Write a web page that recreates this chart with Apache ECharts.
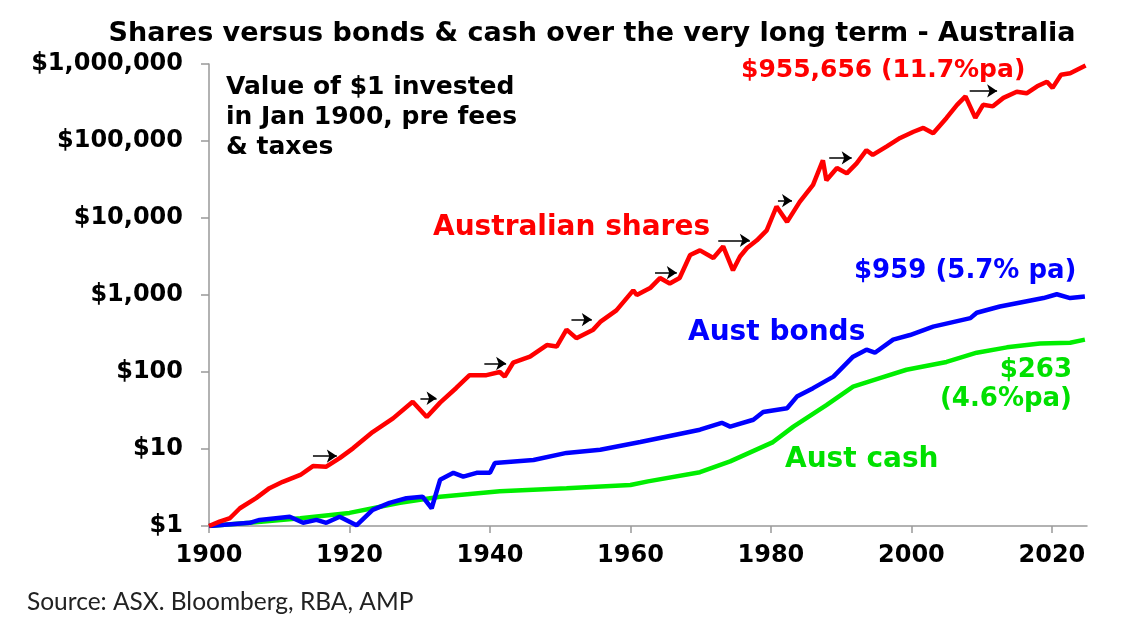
<!DOCTYPE html>
<html>
<head>
<meta charset="utf-8">
<script src="https://cdn.jsdelivr.net/npm/echarts@6/dist/echarts.min.js"></script>
<style>
  html, body { margin: 0; padding: 0; background: #fff; }
  #chart { width: 1137px; height: 640px; }
</style>
</head>
<body>
<div id="chart"></div>
<script>
// value of $1 invested in Jan 1900
var shareYears = [1900, 1901.5, 1903, 1904.4, 1906.7, 1908.6, 1910.5, 1913, 1914.8, 1916.7, 1918.6, 1920.5,
  1923.3, 1926.2, 1929, 1931, 1932.9, 1935.2, 1937.1, 1939.5, 1941.4, 1942.1, 1943.3, 1945.7, 1948.1, 1949.5,
  1950.9, 1952.3, 1954.7, 1955.7, 1958, 1960.4, 1960.9, 1962.8, 1964.2, 1965.6, 1967, 1968.5, 1969.9, 1971.8,
  1973.2, 1974.6, 1975.6, 1976.6, 1978, 1979.4, 1980.8, 1982.3, 1984.1, 1986, 1987.4, 1987.9, 1989.4, 1990.8,
  1992.2, 1993.6, 1994.5, 1996.5, 1998.4, 2000.3, 2001.7, 2003.1, 2005, 2006.5, 2007.7, 2009.1, 2010.2, 2011.6,
  2013.1, 2015, 2016.4, 2017.9, 2019.3, 2020.1, 2021.3, 2022.6, 2024.8];
var shareValues = [1.0, 1.14, 1.27, 1.7, 2.3, 3.1, 3.75, 4.6, 6.0, 5.9, 7.6, 10.2,
  16.6, 25, 41, 26, 40, 62, 91, 91, 100, 87, 132, 158, 224, 214,
  355, 275, 355, 447, 631, 1150, 1000, 1230, 1660, 1410, 1660, 3310, 3800, 3020,
  4270, 2090, 3160, 4070, 5130, 6920, 14100, 8910, 16200, 26900, 56200, 30900, 44700, 38000,
  51300, 75900, 66100, 85100, 109600, 131800, 147900, 125900, 199500, 295100, 380200, 199500, 295100, 281800,
  363100, 436500, 416900, 512900, 588800, 489800, 724400, 758600, 955656];

var bondYears = [1900, 1905.8, 1907.2, 1911.5, 1913.4, 1915.3, 1916.7, 1918.6, 1921, 1923.3, 1925.7, 1928.1,
  1930.4, 1931.7, 1932.9, 1934.8, 1936.2, 1938.1, 1940, 1940.7, 1946.2, 1950.9, 1955.7, 1961.4, 1966.1, 1969.9,
  1973, 1974.2, 1977.5, 1978.9, 1982.3, 1983.7, 1986, 1988.9, 1991.7, 1993.6, 1994.8, 1997.4, 1999.8, 2003.1,
  2008.4, 2009.3, 2012.6, 2015.9, 2018.8, 2020.7, 2022.6, 2024.7];
var bondValues = [1, 1.1, 1.2, 1.32, 1.1, 1.2, 1.1, 1.32, 1.02, 1.62, 2.0, 2.29,
  2.4, 1.7, 3.98, 4.9, 4.37, 4.9, 4.9, 6.6, 7.2, 8.9, 9.8, 12.3, 15.1, 17.8,
  21.9, 19.5, 24, 30.2, 33.9, 47.9, 61.7, 87.1, 158, 195, 178, 263, 302, 389,
  501, 589, 708, 813, 912, 1023, 912, 959];

var cashYears = [1900, 1905.8, 1913, 1920, 1927.2, 1932.9, 1941.4, 1950.9, 1960, 1962.5, 1969.9, 1974.2,
  1980.3, 1983.2, 1987.9, 1991.7, 1995.5, 1999.3, 2005, 2009.3, 2013.6, 2018.3, 2022.6, 2024.7];
var cashValues = [1, 1.1, 1.26, 1.48, 2.0, 2.4, 2.82, 3.09, 3.4, 3.8, 5.0, 6.9,
  12.3, 19.5, 37.2, 64.6, 83.2, 107, 135, 178, 209, 234, 240, 263];

// little black arrows along the shares line
var arrowFrom = [1914.8, 1930.1, 1939.2, 1951.6, 1963.5, 1972.5, 1981, 1988.3, 2008.3];
var arrowTo = [1918.2, 1932.4, 1942.3, 1954.5, 1966.6, 1977, 1983, 1991.5, 2012.2];
var arrowLevel = [8.1, 45.6, 129, 480, 1950, 5130, 16800, 60300, 446700];

function zip(xs, ys) {
  return xs.map(function (x, i) { return [x, ys[i]]; });
}

var arrows = arrowFrom.map(function (x, i) {
  return [{ coord: [x, arrowLevel[i]] }, { coord: [arrowTo[i], arrowLevel[i]] }];
});

var boldFont = 'DejaVu Sans';

var chart = echarts.init(document.getElementById('chart'));
var option = {
  animation: false,
  backgroundColor: '#fff',
  title: {
    text: 'Shares versus bonds & cash over the very long term - Australia',
    left: 587,
    top: 15,
    textAlign: 'center',
    textStyle: { fontFamily: boldFont, fontWeight: 'bold', fontSize: 27, color: '#000' }
  },
  grid: { left: 209, right: 50, top: 64, bottom: 114 },
  xAxis: {
    type: 'value',
    min: 1900,
    max: 2025,
    interval: 20,
    splitLine: { show: false },
    axisLine: { lineStyle: { color: '#999', width: 1.5 } },
    axisTick: { length: 7, lineStyle: { color: '#999', width: 1.5 } },
    axisLabel: {
      margin: 18,
      fontFamily: boldFont, fontWeight: 'bold', fontSize: 24, color: '#000',
      showMaxLabel: false,
      formatter: function (v) { return String(v); }
    }
  },
  yAxis: {
    type: 'log',
    logBase: 10,
    min: 1,
    max: 1000000,
    splitNumber: 6,
    splitLine: { show: false },
    axisLine: { show: true, lineStyle: { color: '#999', width: 1.5 } },
    axisTick: { show: true, length: 8, lineStyle: { color: '#999', width: 1.5 } },
    axisLabel: {
      margin: 26,
      fontFamily: boldFont, fontWeight: 'bold', fontSize: 24, color: '#000',
      formatter: function (v) { return '$' + Math.round(v).toLocaleString('en-US'); }
    }
  },
  series: [
    {
      name: 'Aust cash',
      type: 'line',
      data: zip(cashYears, cashValues),
      showSymbol: false,
      lineStyle: { color: '#00ee00', width: 4.5 },
      z: 2
    },
    {
      name: 'Aust bonds',
      type: 'line',
      data: zip(bondYears, bondValues),
      showSymbol: false,
      lineStyle: { color: '#0000ff', width: 4.5 },
      z: 3
    },
    {
      name: 'Australian shares',
      type: 'line',
      data: zip(shareYears, shareValues),
      showSymbol: false,
      lineStyle: { color: '#ff0000', width: 4.5 },
      z: 4,
      markLine: {
        silent: true,
        symbol: ['none', 'arrow'],
        symbolSize: 10,
        label: { show: false },
        lineStyle: { color: '#000', width: 1.5, type: 'solid' },
        itemStyle: { color: '#000' },
        data: arrows
      }
    }
  ],
  graphic: [
    {
      type: 'text', left: 226, top: 72,
      style: {
        text: 'Value of $1 invested\nin Jan 1900, pre fees\n& taxes',
        font: 'bold 25px "DejaVu Sans"', fill: '#000', lineHeight: 30
      }
    },
    {
      type: 'text', left: 433, top: 214,
      style: { text: 'Australian shares', font: 'bold 28px "DejaVu Sans"', fill: '#ff0000' }
    },
    {
      type: 'text', left: 741, top: 58,
      style: { text: '$955,656 (11.7%pa)', font: 'bold 25px "DejaVu Sans"', fill: '#ff0000' }
    },
    {
      type: 'text', left: 854, top: 258,
      style: { text: '$959 (5.7% pa)', font: 'bold 26px "DejaVu Sans"', fill: '#0000ff' }
    },
    {
      type: 'text', left: 688, top: 319,
      style: { text: 'Aust bonds', font: 'bold 28px "DejaVu Sans"', fill: '#0000ff' }
    },
    {
      type: 'text', x: 1072, y: 356,
      style: {
        text: '$263\n(4.6%pa)', font: 'bold 26px "DejaVu Sans"', fill: '#00e000',
        lineHeight: 29, align: 'right', verticalAlign: 'top'
      }
    },
    {
      type: 'text', left: 785, top: 446,
      style: { text: 'Aust cash', font: 'bold 28px "DejaVu Sans"', fill: '#00e000' }
    },
    {
      type: 'text', left: 27, top: 590,
      style: { text: 'Source: ASX. Bloomberg, RBA, AMP', font: '24.5px Lato', fill: '#222' }
    }
  ]
};
chart.setOption(option);
</script>
</body>
</html>
